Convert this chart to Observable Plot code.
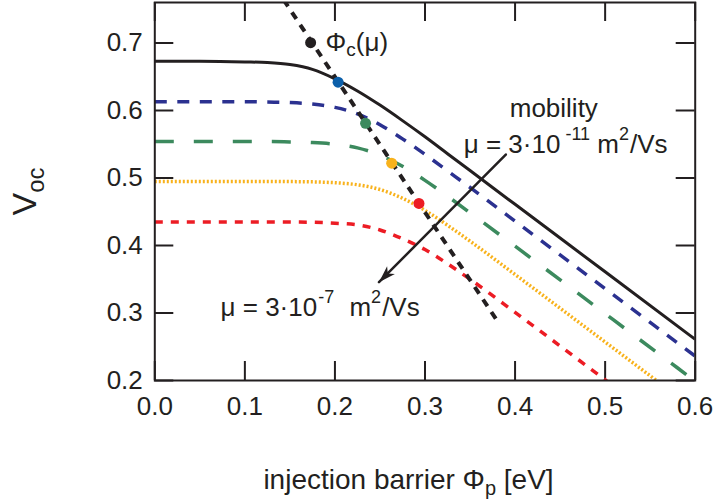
<!DOCTYPE html>
<html><head><meta charset="utf-8">
<script src="https://cdn.jsdelivr.net/npm/d3@7"></script>
<script src="https://cdn.jsdelivr.net/npm/@observablehq/plot@0.6"></script>
<style>html,body{margin:0;padding:0;background:#fff}</style>
</head><body><div id="chart"></div><script>
// ---- data ----
const phi = [0, 0.05, 0.1, 0.125, 0.15, 0.175, 0.2, 0.225, 0.25, 0.275, 0.3, 0.325, 0.35, 0.4, 0.5, 0.6];
const vocBlack  = [0.673, 0.673, 0.672, 0.671, 0.668, 0.661, 0.647, 0.629, 0.608, 0.585, 0.561, 0.536, 0.511, 0.461, 0.361, 0.261];
const vocBlue   = [0.613, 0.613, 0.613, 0.6125, 0.6117, 0.6095, 0.6046, 0.595, 0.579, 0.558, 0.535, 0.5105, 0.486, 0.436, 0.336, 0.236];
const vocGreen  = [0.554, 0.554, 0.554, 0.554, 0.5535, 0.5525, 0.550, 0.5447, 0.534, 0.5174, 0.4965, 0.473, 0.4485, 0.399, 0.299, 0.199];
const vocOrange = [0.495, 0.495, 0.495, 0.495, 0.4947, 0.4943, 0.493, 0.490, 0.483, 0.470, 0.452, 0.430, 0.4065, 0.357, 0.257, 0.157];
const vocRed    = [0.435, 0.435, 0.435, 0.435, 0.4348, 0.4344, 0.433, 0.4306, 0.423, 0.410, 0.394, 0.373, 0.350, 0.301, 0.201, 0.101];

const phiCrit = [0.143, 0.3804];
const vocCrit = [0.764, 0.288];

const dotPhi = [0.173, 0.2035, 0.234, 0.263, 0.2933];
const dotVoc = [0.7005, 0.642, 0.581, 0.522, 0.4623];
const dotColors = ["#231f20", "#0b5faa", "#3c8a5e", "#f8b21c", "#ec1c24"];

const arrowPhi = [0.3897, 0.2489];
const arrowVoc = [0.5348, 0.3456];

const xTicks = [0, 0.1, 0.2, 0.3, 0.4, 0.5, 0.6];
const yTicks = [0.2, 0.3, 0.4, 0.5, 0.6, 0.7];

const annText = ["Φc(μ)", "μ = 3·10-11 m2/Vs", "μ = 3·10-7 m2/Vs"];
const annPhi  = [0.173, 0.343, 0.073];
const annVoc  = [0.7005, 0.550, 0.3086];
const mobilityText = "mobility";
const mobilityPhi = 0.443;
const mobilityVoc = 0.6034;

const xLabel = "injection barrier Φp [eV]";
const yLabel = "Voc";

// ---- styles ----
const INK = "#231f20";
const W = 715, H = 499, mL = 154.3, mR = 20.3, mT = 2, mB = 119;
const pW = W - mL - mR, pH = H - mT - mB;
const TICK = 19;

const curves = [
  {v: vocBlack,  stroke: INK,       dash: null,      width: 3},
  {v: vocBlue,   stroke: "#2b3190", dash: "12,10.5", width: 3.5},
  {v: vocGreen,  stroke: "#3c8a5e", dash: "19,20",   width: 3.5},
  {v: vocOrange, stroke: "#f8b21c", dash: "2,2",     width: 3.5},
  {v: vocRed,    stroke: "#ec1c24", dash: "8,8",     width: 3.5}
];

const rows = (v) => phi.map((p, i) => ({phi: p, voc: v[i]}));
const f1 = d3.format(".1f");

const arrowHead = {draw(ctx) { ctx.moveTo(0, 0); ctx.lineTo(-17, -5.5); ctx.lineTo(-12.5, 0); ctx.lineTo(-17, 5.5); ctx.closePath(); }};

const marks = [
  Plot.axisX(xTicks, {tickSize: 0, tickPadding: 16.5, tickFormat: f1, label: null}),
  Plot.axisY(yTicks, {tickSize: 0, tickPadding: 12, tickFormat: f1, label: null}),
  // inward ticks on all four sides
  Plot.tickY(yTicks, {y: d => d, insetRight: pW - TICK, stroke: INK, strokeWidth: 2}),
  Plot.tickY(yTicks, {y: d => d, insetLeft: pW - TICK, stroke: INK, strokeWidth: 2}),
  Plot.tickX(xTicks, {x: d => d, insetTop: pH - TICK, stroke: INK, strokeWidth: 2}),
  Plot.tickX(xTicks, {x: d => d, insetBottom: pH - TICK, stroke: INK, strokeWidth: 2}),
];
for (const c of curves.slice().reverse()) {
  marks.push(Plot.line(rows(c.v), {x: "phi", y: "voc", stroke: c.stroke, strokeWidth: c.width,
    strokeDasharray: c.dash, strokeLinecap: "butt", curve: "monotone-x", clip: true}));
}
marks.push(
  Plot.line(phiCrit.map((p, i) => ({phi: p, voc: vocCrit[i]})), {x: "phi", y: "voc", stroke: INK,
    strokeWidth: 4, strokeDasharray: "8,7", strokeLinecap: "butt", clip: true}),
  Plot.line(arrowPhi.map((p, i) => ({phi: p, voc: arrowVoc[i]})), {x: "phi", y: "voc", stroke: INK, strokeWidth: 2.5}),
  Plot.dot([{phi: arrowPhi[1], voc: arrowVoc[1]}], {x: "phi", y: "voc", symbol: arrowHead, fill: INK, stroke: null, rotate: 135, r: 5}),
  Plot.dot(dotPhi.map((p, i) => ({phi: p, voc: dotVoc[i], c: dotColors[i]})), {x: "phi", y: "voc", r: 5.5, fill: d => d.c, stroke: null}),
  Plot.text(annText.map((t, i) => ({t, phi: annPhi[i], voc: annVoc[i]})), {x: "phi", y: "voc", text: "t",
    textAnchor: "start", fill: INK}),
  Plot.text([{t: mobilityText, phi: mobilityPhi, voc: mobilityVoc}], {x: "phi", y: "voc", text: "t", textAnchor: "middle", fill: INK}),
  Plot.text([xLabel], {text: d => d, frameAnchor: "bottom", textAnchor: "middle", lineAnchor: "bottom",
    dx: 408 - (mL + pW / 2), dy: 108, fill: INK, fontSize: 28}),
  Plot.text([yLabel], {text: d => d, frameAnchor: "left", textAnchor: "middle", lineAnchor: "middle",
    dx: 25 - mL, rotate: -90, fill: INK, fontSize: 34}),
  Plot.frame({stroke: INK, strokeWidth: 2})
);

const chart = Plot.plot({
  width: W, height: H, marginLeft: mL, marginRight: mR, marginTop: mT, marginBottom: mB,
  style: {fontFamily: "'Liberation Sans', Arial, sans-serif", fontSize: "26px", color: INK, background: "#fff"},
  x: {domain: [0, 0.6]},
  y: {domain: [0.2, 0.76]},
  marks
});

// rich text: subscripts / superscripts
const rich = {
  "Φc(μ)": [{t: "Φ", dx: 15}, {t: "c", sub: 5, size: 19}, {t: "(μ)"}],
  "μ = 3·10-11 m2/Vs": [{t: "μ = 3·10"}, {t: "-11", sup: 13, size: 18, dx: 5}, {t: " m"}, {t: "2", sup: 13, size: 18}, {t: "/Vs", dx: 1}],
  "μ = 3·10-7 m2/Vs": [{t: "μ = 3·10"}, {t: "-7", sup: 13, size: 18, dx: 1}, {t: " m", dx: 8}, {t: "2", sup: 13, size: 18}, {t: "/Vs", dx: 1}],
  "injection barrier Φp [eV]": [{t: "injection barrier Φ"}, {t: "p", sub: 6, size: 20}, {t: " [eV]"}],
  "Voc": [{t: "V"}, {t: "oc", sub: 8, size: 24}]
};
const NS = "http://www.w3.org/2000/svg";
chart.querySelectorAll("text").forEach(t => {
  const segs = rich[t.textContent];
  if (!segs) return;
  while (t.firstChild) t.removeChild(t.firstChild);
  let shift = 0;
  for (const s of segs) {
    const ts = document.createElementNS(NS, "tspan");
    ts.textContent = s.t;
    const target = s.sup ? -s.sup : (s.sub || 0);
    if (target !== shift) ts.setAttribute("dy", target - shift);
    shift = target;
    if (s.size) ts.setAttribute("font-size", s.size);
    if (s.dx) ts.setAttribute("dx", s.dx);
    t.appendChild(ts);
  }
});
document.getElementById("chart").appendChild(chart);
</script></body></html>
